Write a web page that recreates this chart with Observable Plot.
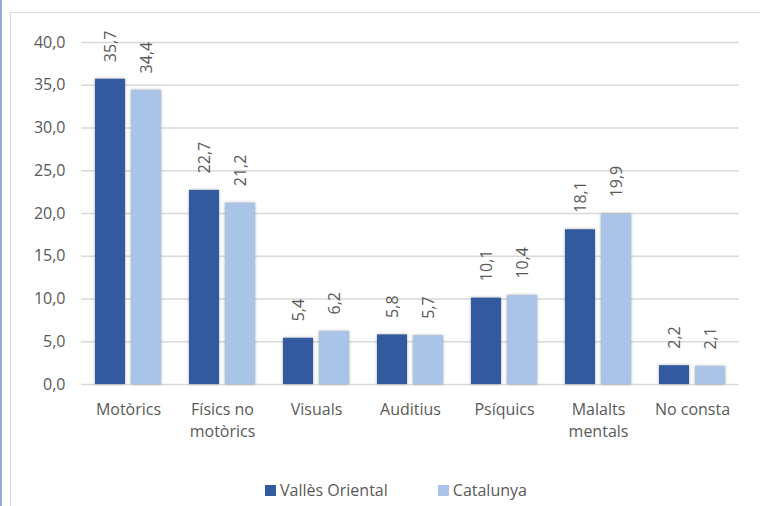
<!DOCTYPE html>
<html>
<head>
<meta charset="utf-8">
<script src="https://cdn.jsdelivr.net/npm/d3@7"></script>
<script src="https://cdn.jsdelivr.net/npm/@observablehq/plot@0.6"></script>
<style>
  html, body { margin: 0; padding: 0; background: #fff; }
  #wrap { position: relative; width: 760px; height: 506px; overflow: hidden; font-family: "Open Sans", sans-serif; }
  #blue { position: absolute; left: 0; top: 0; width: 2px; height: 506px; background: #8faadc; }
  #frame { position: absolute; left: 10px; top: 12px; width: 800px; height: 600px; border-left: 1.5px solid #d9d9d9; border-top: 1.5px solid #d9d9d9; }
  #chart { position: absolute; left: 0; top: 0; }
  #legend { position: absolute; left: 16px; top: 478px; width: 760px; height: 24px; display: flex; justify-content: center; align-items: center; font-size: 16px; color: #595959; }
  .item { display: flex; align-items: center; margin: 0 25px; }
  .sw { width: 11px; height: 11px; margin-right: 4px; }
  g[aria-label="bar"] rect { filter: drop-shadow(0.5px 0.5px 1.5px rgba(0,0,0,0.35)); }
</style>
</head>
<body>
<div id="wrap">
  <div id="blue"></div>
  <div id="frame"></div>
  <div id="chart"></div>
  <div id="legend"></div>
</div>
<script>
const categories = ["Motòrics", "Físics no motòrics", "Visuals", "Auditius", "Psíquics", "Malalts mentals", "No consta"];
const categoryLabels = ["Motòrics", "Físics no\nmotòrics", "Visuals", "Auditius", "Psíquics", "Malalts\nmentals", "No consta"];
const series = ["Vallès Oriental", "Catalunya"];
const vallesValues = [35.7, 22.7, 5.4, 5.8, 10.1, 18.1, 2.2];
const catalunyaValues = [34.4, 21.2, 6.2, 5.7, 10.4, 19.9, 2.1];
const yTicks = [0, 5, 10, 15, 20, 25, 30, 35, 40];
const colors = ["#335a9f", "#a9c4e6"];

const fmt = v => v.toFixed(1).replace(".", ",");
const labelOf = new Map(categories.map((c, i) => [c, categoryLabels[i]]));

const data = categories.flatMap((c, i) => [
  {category: c, series: series[0], value: vallesValues[i]},
  {category: c, series: series[1], value: catalunyaValues[i]}
]);

const chart = Plot.plot({
  width: 760,
  height: 470,
  marginLeft: 78,
  marginRight: 18,
  marginTop: 42,
  marginBottom: 86,
  style: {fontFamily: "Open Sans, sans-serif", color: "#595959", background: "transparent"},
  fx: {domain: categories, padding: 0, label: null, axis: null},
  x: {domain: series, paddingInner: 0.18, paddingOuter: 0.386, axis: null},
  y: {domain: [0, 40], label: null, axis: null},
  color: {domain: series, range: colors},
  marks: [
    Plot.gridY(yTicks, {stroke: "#d9d9d9", strokeOpacity: 1, strokeWidth: 1.5}),
    Plot.axisY(yTicks, {tickSize: 0, tickPadding: 16, tickFormat: fmt, fontSize: 16, fill: "#595959", label: null}),
    Plot.axisFx({anchor: "bottom", tickSize: 0, tickPadding: 15, tickFormat: d => labelOf.get(d), fontSize: 16, fill: "#595959", lineHeight: 1.36, label: null}),
    Plot.barY(data, {fx: "category", x: "series", y: "value", fill: "series"}),
    Plot.text(data, {fx: "category", x: "series", y: "value", text: d => fmt(d.value), rotate: -90, textAnchor: "start", lineAnchor: "middle", dy: -17, fontSize: 16, fill: "#595959"})
  ]
});
document.getElementById("chart").appendChild(chart);

const legend = document.getElementById("legend");
series.forEach((s, i) => {
  const item = document.createElement("div");
  item.className = "item";
  const sw = document.createElement("span");
  sw.className = "sw";
  sw.style.background = colors[i];
  const t = document.createElement("span");
  t.textContent = s;
  item.appendChild(sw);
  item.appendChild(t);
  legend.appendChild(item);
});
</script>
</body>
</html>
